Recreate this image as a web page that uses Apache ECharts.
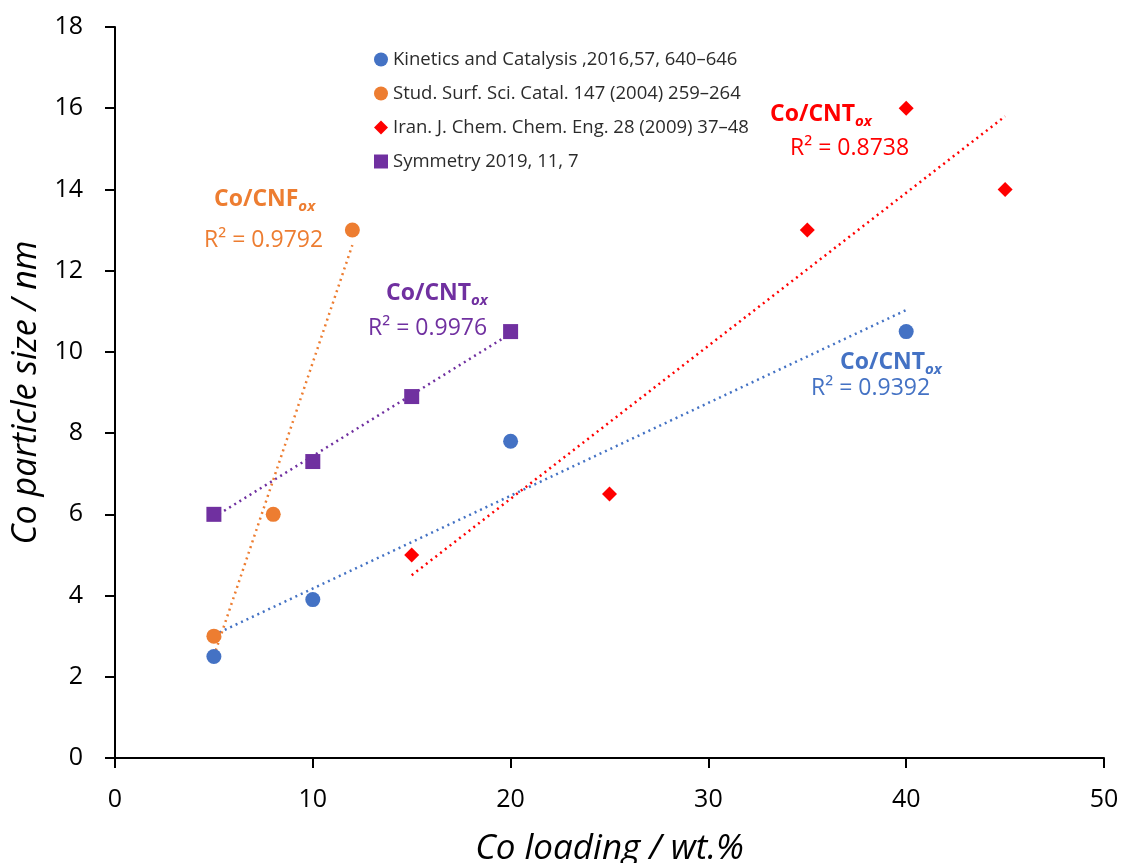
<!DOCTYPE html>
<html>
<head>
<meta charset="utf-8">
<script src="https://cdn.jsdelivr.net/npm/echarts@6/dist/echarts.min.js"></script>
<style>html,body{margin:0;padding:0;background:#fff}#c{width:1123px;height:863px}</style>
</head>
<body>
<div id="c"></div>
<script>
// ---- data ----
const seriesNames = [
  'Kinetics and Catalysis ,2016,57, 640–646',
  'Stud. Surf. Sci. Catal. 147 (2004) 259–264',
  'Iran. J. Chem. Chem. Eng. 28 (2009) 37–48',
  'Symmetry 2019, 11, 7'
];
const kineticsX = [5, 10, 20, 40];
const kineticsY = [2.5, 3.9, 7.8, 10.5];
const studX = [5, 8, 12];
const studY = [3, 6, 13];
const iranX = [15, 25, 35, 40, 45];
const iranY = [5, 6.5, 13, 16, 14];
const symX = [5, 10, 15, 20];
const symY = [6, 7.3, 8.9, 10.5];
// trendline end points
const kineticsTrendX = [5, 40];
const kineticsTrendY = [3.03, 11.03];
const studTrendX = [5, 12];
const studTrendY = [2.51, 12.63];
const iranTrendX = [15, 45];
const iranTrendY = [4.5, 15.8];
const symTrendX = [5, 20];
const symTrendY = [5.93, 10.45];
const xTicks = [0, 10, 20, 30, 40, 50];
const yTicks = [0, 2, 4, 6, 8, 10, 12, 14, 16, 18];
const r2Labels = ['R² = 0.9392', 'R² = 0.9792', 'R² = 0.8738', 'R² = 0.9976'];
const fitNames = ['Co/CNT', 'Co/CNF', 'Co/CNT', 'Co/CNT'];
const fitSub = 'ox';

const colors = ['#4472C4', '#ED7D31', '#FF0000', '#7030A0'];
const pair = (xs, ys) => xs.map((x, i) => [x, ys[i]]);

const chart = echarts.init(document.getElementById('c'), null, {renderer: 'canvas'});
const FONT = 'Open Sans';

function fitLabel(i, x, y) {
  return {
    type: 'text', x: x, y: y, z: 10,
    style: {
      text: '{b|' + fitNames[i] + '}{s|' + fitSub + '}',
      rich: {
        b: {fontFamily: FONT, fontWeight: 'bold', fontSize: 23, fill: colors[i], color: colors[i], verticalAlign: 'bottom'},
        s: {fontFamily: FONT, fontWeight: 'bold', fontStyle: 'italic', fontSize: 15, fill: colors[i], color: colors[i], verticalAlign: 'bottom', padding: [0, 0, -4, 0]}
      },
      verticalAlign: 'middle', align: 'left'
    }
  };
}
function r2Label(i, x, y) {
  return {
    type: 'text', x: x, y: y, z: 10,
    style: {
      text: r2Labels[i], fontFamily: FONT, fontSize: 23, fill: colors[i],
      verticalAlign: 'middle', align: 'left'
    }
  };
}

const option = {
  backgroundColor: '#fff',
  animation: false,
  grid: {left: 115, right: 19, top: 27, bottom: 105, containLabel: false, outerBoundsMode: 'none'},
  legend: {
    orient: 'vertical', left: 369, top: 45, itemGap: 15,
    itemWidth: 14, itemHeight: 14,
    textStyle: {fontFamily: FONT, fontSize: 18.5, color: '#2b2b2b'},
    data: [
      {name: seriesNames[0], icon: 'circle'},
      {name: seriesNames[1], icon: 'circle'},
      {name: seriesNames[2], icon: 'diamond'},
      {name: seriesNames[3], icon: 'rect'}
    ]
  },
  xAxis: {
    type: 'value', min: xTicks[0], max: xTicks[xTicks.length - 1], interval: 10,
    name: 'Co loading / wt.%', nameLocation: 'middle', nameGap: 74,
    nameTextStyle: {fontFamily: FONT, fontStyle: 'italic', fontSize: 35, color: '#000'},
    axisLine: {show: true, onZero: false, lineStyle: {color: '#000', width: 2}},
    axisTick: {show: true, inside: false, length: 10, lineStyle: {color: '#000', width: 2}},
    axisLabel: {fontFamily: FONT, fontSize: 25, color: '#000', margin: 29},
    splitLine: {show: false}
  },
  yAxis: {
    type: 'value', min: yTicks[0], max: yTicks[yTicks.length - 1], interval: 2,
    name: 'Co particle size / nm', nameLocation: 'middle', nameGap: 64,
    nameTextStyle: {fontFamily: FONT, fontStyle: 'italic', fontSize: 34, color: '#000'},
    axisLine: {show: true, onZero: false, lineStyle: {color: '#000', width: 2}},
    axisTick: {show: true, inside: false, length: 10, lineStyle: {color: '#000', width: 2}},
    axisLabel: {fontFamily: FONT, fontSize: 25, color: '#000', margin: 32},
    splitLine: {show: false}
  },
  series: [
    {name: 'trend0', type: 'line', data: pair(kineticsTrendX, kineticsTrendY), symbol: 'none', z: 1,
     lineStyle: {color: colors[0], width: 2.5, type: [2, 4]}, silent: true},
    {name: 'trend1', type: 'line', data: pair(studTrendX, studTrendY), symbol: 'none', z: 1,
     lineStyle: {color: colors[1], width: 2.5, type: [2, 4]}, silent: true},
    {name: 'trend2', type: 'line', data: pair(iranTrendX, iranTrendY), symbol: 'none', z: 1,
     lineStyle: {color: colors[2], width: 2.5, type: [2, 4]}, silent: true},
    {name: 'trend3', type: 'line', data: pair(symTrendX, symTrendY), symbol: 'none', z: 1,
     lineStyle: {color: colors[3], width: 2.5, type: [2, 4]}, silent: true},
    {name: seriesNames[0], type: 'scatter', data: pair(kineticsX, kineticsY), symbol: 'circle', symbolSize: 15,
     itemStyle: {color: colors[0], opacity: 1}, z: 3},
    {name: seriesNames[1], type: 'scatter', data: pair(studX, studY), symbol: 'circle', symbolSize: 15,
     itemStyle: {color: colors[1], opacity: 1}, z: 3},
    {name: seriesNames[2], type: 'scatter', data: pair(iranX, iranY), symbol: 'diamond', symbolSize: 15,
     itemStyle: {color: colors[2], opacity: 1}, z: 3},
    {name: seriesNames[3], type: 'scatter', data: pair(symX, symY), symbol: 'rect', symbolSize: 15,
     itemStyle: {color: colors[3], opacity: 1}, z: 3}
  ],
  graphic: [
    fitLabel(1, 214, 199), r2Label(1, 204, 240),
    fitLabel(3, 386, 293), r2Label(3, 368, 328),
    fitLabel(2, 770, 114), r2Label(2, 790, 148),
    fitLabel(0, 840, 362), r2Label(0, 811, 388)
  ]
};
chart.setOption(option);
</script>
</body>
</html>
